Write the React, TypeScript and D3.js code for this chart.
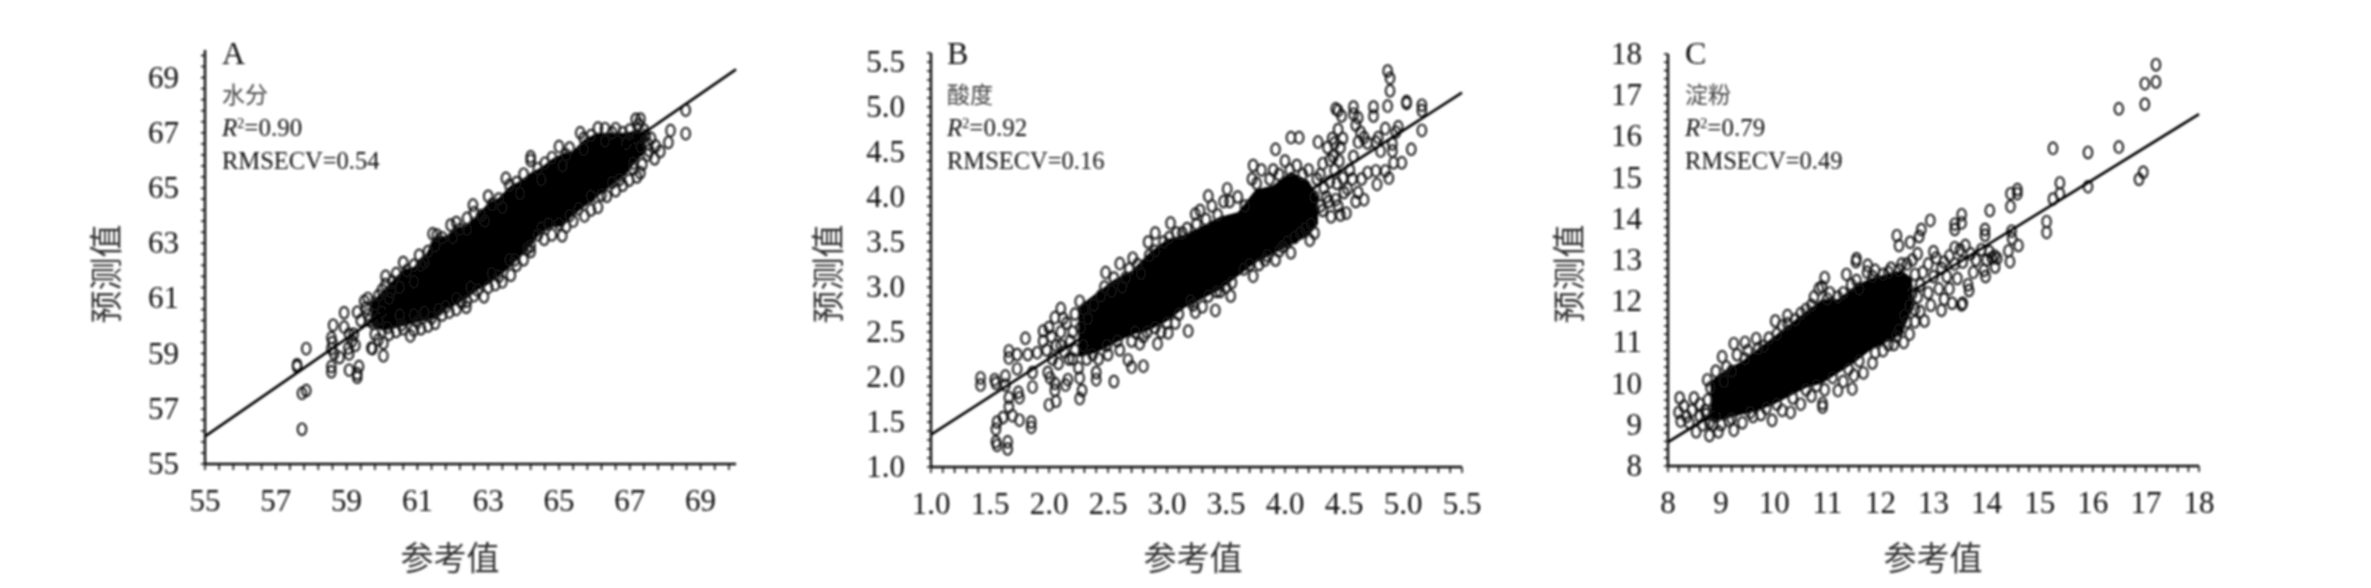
import React from "react";
import * as d3 from "d3";

const titleX = "参考值";
const titleY = "预测值";

const ticksA = [55, 57, 59, 61, 63, 65, 67, 69];
const ticksB = [1, 1.5, 2, 2.5, 3, 3.5, 4, 4.5, 5, 5.5];
const ticksC = [8, 9, 10, 11, 12, 13, 14, 15, 16, 17, 18];

const fitA: [number, number][] = [[55, 56], [70, 69.3]];
const fitB: [number, number][] = [[1, 1.36], [5.5, 5.16]];
const fitC: [number, number][] = [[8, 8.58], [18, 16.54]];

// dense, fully overlapped centre of each cloud: reference value, lower and upper predicted value
const coreAx = [59.7, 60.0, 60.3, 60.6, 60.9, 61.2, 61.5, 61.8, 62.1, 62.4, 62.7, 63.0, 63.3, 63.6, 63.9, 64.2, 64.5, 64.8, 65.1, 65.4, 65.7, 66.0, 66.3, 66.6, 66.9, 67.2, 67.45];
const coreAhi = [60.85, 61.25, 61.65, 62.05, 62.15, 62.5, 63.25, 63.25, 63.55, 63.65, 64.05, 64.45, 64.65, 65.05, 65.25, 65.55, 65.75, 66.05, 66.25, 66.35, 66.75, 66.95, 67.0, 67.0, 67.0, 67.1, 67.0];
const coreAlo = [60.0, 59.85, 59.9, 60.0, 60.1, 60.2, 60.3, 60.6, 60.8, 61.0, 61.3, 61.5, 61.8, 62.1, 62.5, 62.9, 63.4, 63.6, 63.6, 64.0, 64.3, 64.6, 64.9, 65.2, 65.5, 66.0, 66.3];
const coreBx = [2.25, 2.4, 2.55, 2.7, 2.85, 3.0, 3.15, 3.3, 3.45, 3.6, 3.75, 3.9, 4.05, 4.2, 4.28];
const coreBhi = [2.78, 2.93, 3.08, 3.18, 3.38, 3.53, 3.58, 3.68, 3.78, 3.83, 4.08, 4.13, 4.28, 4.18, 4.0];
const coreBlo = [2.22, 2.27, 2.37, 2.47, 2.52, 2.62, 2.77, 2.87, 2.97, 3.12, 3.27, 3.37, 3.47, 3.57, 3.7];
const coreCx = [8.8, 9.1, 9.4, 9.7, 10.0, 10.3, 10.6, 10.9, 11.2, 11.5, 11.8, 12.1, 12.4, 12.6];
const coreChi = [10.05, 10.35, 10.55, 10.85, 11.15, 11.45, 11.75, 12.05, 12.05, 12.35, 12.55, 12.65, 12.75, 12.55];
const coreClo = [9.1, 9.15, 9.25, 9.35, 9.5, 9.7, 9.9, 10.0, 10.25, 10.5, 10.8, 11.0, 11.2, 11.8];

const pointsA: [number, number][] = [
  [57.6,58.6],[57.6,58.53],[57.74,57.56],[57.86,57.66],[57.74,56.26],[57.86,59.18],[58.57,58.34],[58.57,58.53],[58.57,59.57],[58.62,60.03],[58.57,59.18],[58.8,58.86],[58.93,60.48],[58.93,59.96],[59.07,59.7],[59.07,58.99],[59.07,58.4],[59.3,58.27],[59.3,58.14],[59.35,58.53],[59.2,59.7],[59.15,59.45],[59.25,59.3],[58.65,59.0],[58.6,59.4],[59.05,59.2],[59.3,60.5],[59.4,60.2],[59.73,59.18],
  [68.58,67.82],[68.58,66.97],[68.15,67.08],[68.09,66.65],[67.86,66.32],[67.7,66.06],[67.73,66.52],[67.3,65.55],[67.17,67.49],
  [59.5,60.9],[59.6,61.0],[59.8,60.8],[59.9,61.1],[60.0,61.3],[60.1,61.5],[60.1,61.8],[60.3,61.6],[60.4,61.9],[60.6,62.3],[60.7,62.0],[60.9,62.2],[61.05,62.56],[61.1,62.2],[61.3,62.7],[61.43,63.34],[61.55,63.3],[61.7,63.2],[61.94,63.66],[62.1,63.75],[62.2,63.5],[62.4,63.9],[62.57,64.38],[62.6,64.1],[62.8,64.0],[63.0,64.7],[63.1,64.4],[63.3,64.6],[63.5,65.35],[63.6,65.1],[63.8,65.2],[64.0,65.5],[64.2,66.13],[64.2,66.0],[64.4,65.7],[64.6,65.9],[64.8,66.1],[65.0,66.5],[65.2,66.2],[65.3,66.45],[65.6,67.0],[65.7,66.8],[65.9,66.9],[66.1,67.17],[66.3,67.15],[66.5,67.0],[66.6,67.15],[66.8,67.0],[67.0,67.1],[67.25,67.3],[67.3,67.5],[67.4,67.1],[67.45,66.9],[67.5,66.6],
  [59.7,59.2],[59.8,59.7],[59.9,59.5],[60.04,58.92],[60.04,59.38],[60.2,59.7],[60.4,59.8],[60.6,59.9],[60.8,59.64],[60.9,59.85],[61.1,59.9],[61.3,60.0],[61.5,60.1],[61.7,60.4],[61.9,60.5],[62.1,60.6],[62.38,60.68],[62.4,60.9],[62.6,61.1],[62.88,61.06],[63.0,61.4],[63.2,61.5],[63.4,61.6],[63.64,61.84],[63.8,62.2],[64.0,62.4],[64.2,62.7],[64.4,63.3],[64.58,63.14],[64.8,63.3],[65.09,63.27],[65.2,63.6],[65.4,63.8],[65.72,63.99],[65.9,64.2],[66.1,64.3],[66.35,64.7],[66.6,64.9],[66.8,65.1],[66.98,65.28],[67.2,65.4],[67.35,65.85],[67.5,66.2],
  [59.6,60.4],[59.75,60.1],[60.0,60.5],[60.2,61.0],[60.5,61.4],[60.5,60.4],[60.9,61.6],[60.9,60.4],[61.2,62.3],[61.2,60.5],[61.5,62.9],[61.6,60.6],[62.0,63.2],[62.1,61.0],[62.4,63.5],[62.5,61.4],[62.9,63.8],[63.1,61.9],[63.4,64.3],[63.6,62.4],[63.9,64.8],[64.2,62.9],[64.5,65.3],[64.7,63.7],[65.1,65.8],[65.3,64.0],[65.7,66.4],[65.9,64.7],[66.3,66.7],[66.5,65.2],[66.9,66.6],[67.1,65.9],[67.3,66.5],[67.2,66.8],
  [59.55,60.65],[59.65,60.2],[59.9,60.25],[60.25,61.25],[60.15,59.95],[60.55,60.05],[61.0,60.15],[61.4,60.3],[61.8,60.7],[62.25,60.85],[62.7,61.3],[63.3,61.8],[63.75,62.4],[64.1,62.8],[64.5,63.55],[65.0,63.7],[65.55,64.25],[66.2,64.75],[66.7,65.3],[67.1,65.7],[67.55,66.35],[67.6,66.8]
];

const pointsB: [number, number][] = [
  [1.42,1.99],[1.42,1.91],[1.54,1.97],[1.55,1.93],[1.63,2.01],[1.63,1.91],[1.56,1.5],[1.55,1.42],[1.55,1.28],[1.56,1.24],[1.65,1.28],[1.65,1.2],[1.61,1.55],[1.69,1.57],[1.75,1.52],[1.85,1.5],[1.85,1.44],[1.66,1.77],[1.66,1.67],[1.74,1.83],[1.75,1.77],[1.86,1.89],[1.86,2.05],[1.73,2.09],[1.66,2.29],[1.66,2.21],[1.73,2.25],[1.8,2.43],[1.82,2.25],[1.9,2.27],[2.0,1.69],[2.06,1.73],[1.99,2.05],[2.01,1.99],[2.05,1.93],[2.05,1.85],[2.14,1.91],[2.16,1.97],[2.26,1.99],[2.26,1.76],[2.28,1.85],[2.4,2.05],[2.4,1.97],[2.55,1.95],[2.67,2.19],[2.7,2.11],[2.8,2.12],
  [1.95,2.51],[2.05,2.66],[2.1,2.76],[2.26,2.84],[2.48,3.16],[2.6,3.26],[2.71,3.32],[2.84,3.5],[2.9,3.6],[3.03,3.71],[3.24,3.81],[3.35,4.01],[3.51,4.09],[3.73,4.35],[3.92,4.53],[4.05,4.66],[4.12,4.66],[4.28,4.61],
  [4.43,4.98],[4.45,4.96],[4.48,4.9],[4.58,5.0],[4.58,4.92],[4.62,4.88],[4.6,4.8],[4.64,4.72],[4.67,4.66],[4.62,4.61],[4.75,5.0],[4.75,4.9],[4.87,5.4],[4.89,5.32],[4.89,5.18],[4.87,5.01],[5.03,5.06],[5.03,5.04],[5.16,5.02],[5.16,4.96],[5.16,4.74],[5.07,4.53],[4.99,4.38],[4.96,4.78],[4.94,4.72],[4.85,4.76],[4.79,4.66],[4.77,4.61],[4.81,4.51],[4.91,4.59],[4.91,4.51],[4.92,4.38],[4.88,4.21],[4.78,4.14],[4.85,4.29],[4.77,4.29],[4.7,4.27],[4.67,3.97],[4.62,4.05],[4.52,3.82],[4.39,3.78],[4.43,3.97],[4.53,4.09],[4.58,4.45],[4.49,4.65],[4.4,4.65],[4.49,4.21],[4.38,4.17],[4.32,4.37],[4.38,4.41],
  [4.21,3.52],[4.05,3.38],[3.92,3.3],[3.73,3.12],[3.54,2.9],[3.41,2.74],[3.24,2.72],[3.18,2.51],[3.01,2.49],[2.92,2.37],[2.77,2.37],
  [1.95,2.4],[1.98,2.3],[2.02,2.45],[2.06,2.35],[2.1,2.5],[2.13,2.28],[2.15,2.6],[2.18,2.4],[2.2,2.2],[2.22,2.7],[2.25,2.1],[2.3,2.75],[2.32,2.2],[2.38,2.8],[2.42,2.2],[2.47,3.0],[2.5,2.25],[2.55,3.1],[2.6,2.3],[2.65,3.1],[2.7,2.4],[2.75,3.25],[2.8,2.45],[2.85,3.35],[2.9,2.55],[2.97,3.5],[3.0,2.6],[3.08,3.6],[3.1,2.7],[3.17,3.65],[3.2,2.85],[3.28,3.85],[3.3,2.78],[3.38,3.9],[3.45,2.95],[3.48,3.95],[3.55,3.05],[3.6,4.0],[3.65,3.2],[3.72,4.2],[3.78,3.25],[3.8,4.3],[3.85,3.35],[3.9,4.3],[3.98,3.45],[4.0,4.4],[4.08,3.55],[4.1,4.35],[4.17,3.65],[4.2,4.3],[4.25,3.6],[4.27,4.2],[4.3,3.9],[4.33,4.1],[4.35,4.0],[4.36,4.55],[4.42,4.3],[4.44,4.15],[4.45,3.9],[4.47,4.55],[4.5,4.05],[4.55,4.3],[4.57,4.2],[4.6,3.95],[4.65,4.2],[4.45,4.75],[4.42,4.6],[4.47,3.8],[4.7,4.6],
  [2.0,2.55],[2.03,2.2],[2.08,2.15],[2.1,2.35],[2.12,2.65],[2.17,2.2],[2.2,2.5],[2.22,2.3],[2.27,2.55],[2.29,2.35],[2.33,2.65],[2.37,2.25],[2.44,2.9],[2.49,2.35],[2.53,2.95],[2.58,2.4],[2.62,3.0],[2.68,3.2],[2.73,2.5],[2.78,3.15],[2.83,2.5],[2.9,3.4],[2.95,2.5],[3.02,3.55],[3.07,2.6],[3.13,3.6],[3.25,3.7],[3.22,2.8],[3.33,3.75],[3.35,2.9],[3.43,3.8],[3.42,2.95],[3.53,3.95],[3.5,3.0],[3.66,3.9],[3.7,3.25],[3.76,4.15],[3.83,3.3],[3.87,4.2],[3.95,3.4],[3.95,4.25],[4.02,3.5],[4.04,4.3],[4.13,3.6],[4.15,4.25],[4.22,3.7],[4.25,4.0],[4.3,4.25],[4.32,3.85],[4.37,3.95],[4.41,4.45],[4.46,4.4]
];

const pointsC: [number, number][] = [
  [17.19,17.74],[17.19,17.32],[16.98,17.28],[16.98,16.78],[16.49,16.67],[16.49,15.74],[15.91,15.61],[15.25,15.71],[15.91,14.78],[16.95,15.13],[16.87,14.96],[15.38,14.87],[15.38,14.61],[15.25,14.48],[15.13,13.93],[15.13,13.67],[14.58,14.71],[14.58,14.61],[14.45,14.61],[14.45,14.3],[14.06,14.2],[14.47,13.7],[14.48,13.52],[14.6,13.35],[14.41,13.22],[14.44,12.96],[14.2,13.04],[14.16,12.83],[13.97,13.74],[13.97,13.6],[13.53,14.1],[13.53,13.9],[13.4,13.87],[13.4,13.74],[12.94,13.96],[12.31,13.59],[12.35,13.35],[12.77,13.74],[12.73,13.57],[12.56,13.43],[11.55,13.03],[11.54,12.96],[11.76,12.87],[11.36,12.65],[10.95,12.57],[10.84,12.3],[10.25,11.65],[10.02,11.52],[9.66,11.09],[9.45,11.0],[9.24,10.97],[9.02,10.65],[8.74,10.09],[8.22,9.65],[8.49,9.65],[8.24,9.09],[8.53,8.83],[8.78,8.74],[8.95,8.83],[9.24,8.87],[9.96,9.11],[10.31,9.3],[10.91,9.43],[10.91,9.52],[11.47,9.87],[11.2,9.83],[11.68,10.26],[12.44,11.0],[12.83,11.52],[13.15,11.78],[13.53,11.91],[13.67,12.26],
  [8.2,9.3],[8.3,9.45],[8.35,9.2],[8.4,9.05],[8.45,9.35],[8.6,9.5],[8.6,9.2],[8.65,9.0],[8.7,9.35],[8.85,9.0],[9.0,9.0],[9.15,9.1],[9.4,9.05],[9.6,9.2],[9.75,9.25],[10.15,9.35],[10.5,9.5],[10.7,9.7],[10.95,9.85],[11.3,10.05],[11.5,10.2],[11.85,10.5],[12.05,10.8],[12.25,10.95],[12.35,11.3],[12.5,11.5],
  [8.8,9.9],[8.9,10.3],[9.1,10.4],[9.3,10.7],[9.5,10.8],[9.8,10.9],[9.9,11.1],[10.15,11.4],[10.4,11.55],[10.6,11.8],[10.75,12.1],[10.9,12.35],[11.05,12.2],[11.2,12.1],[11.45,12.4],[11.6,12.3],[11.75,12.7],[11.9,12.75],[12.05,12.65],[12.2,12.8],[12.4,12.9],[12.6,13.0],
  [12.65,11.8],[12.7,12.1],[12.75,12.4],[12.8,12.7],[12.9,12.9],[12.9,12.2],[12.95,11.9],[13.0,13.2],[13.0,12.6],[13.05,13.05],[13.1,12.3],[13.15,12.8],[13.2,12.05],[13.25,12.6],[13.3,13.1],[13.3,12.3],[13.35,11.95],[13.4,13.3],[13.4,12.9],[13.45,12.55],[13.5,13.25],[13.55,12.95],[13.6,13.35],[13.65,12.4],[13.7,13.15],[13.75,12.7],[13.8,13.0],[13.9,13.25],[13.95,12.75],[13.98,12.6],[14.0,13.0],[14.05,13.2],[14.1,13.05],[14.15,13.1],[12.6,12.2],[12.55,11.9],[12.65,12.65],[12.7,13.15],[13.2,12.95],[13.55,11.95],
  [8.75,9.6],[8.72,9.25],[8.78,9.05],[8.9,9.2],[9.05,10.05],[9.2,9.15],[9.2,10.3],[9.45,10.6],[9.55,9.3],[9.7,10.85],[9.85,9.4],[10.05,11.2],[10.05,9.5],[10.25,11.45],[10.35,9.65],[10.5,11.7],[10.6,9.85],[10.7,11.9],[10.8,9.95],[11.0,12.05],[11.1,10.15],[11.3,12.2],[11.4,10.35],[11.55,12.5],[11.6,10.55],[11.85,12.6],[11.9,10.75],[12.15,12.7],[12.15,10.95],[12.35,12.75],[12.3,11.15],[12.45,11.65],[12.5,12.9],[12.55,11.2],[12.65,11.5],[12.75,11.75]
];

const size = { rx: 4.3, ry: 5.8 };

type PanelProps = {
  letter: string; name: string; r2: string; rmse: string;
  xr: [number, number]; yr: [number, number];
  dx: [number, number]; dy: [number, number];
  ticks: number[]; fmt: (v: number) => string; step: number;
  fit: [number, number][]; pts: [number, number][];
  cx: number[]; clo: number[]; chi: number[];
  yTitleX: number; xTitleX: number; textX: number;
};

function Panel(p: PanelProps) {
  const x = d3.scaleLinear().domain(p.dx).range(p.xr);
  const y = d3.scaleLinear().domain(p.dy).range(p.yr);
  const minor = p.step / 5;
  const n = (d: [number, number]) => Math.floor((d[1] - d[0]) / minor + 1e-6);
  const minorX = d3.range(n(p.dx) + 1).map((i) => p.dx[0] + i * minor);
  const minorY = d3.range(n(p.dy) + 1).map((i) => p.dy[0] + i * minor);
  const line = d3.line<[number, number]>().x((d) => x(d[0])).y((d) => y(d[1]));
  const band = d3.area<number>()
    .x((_, i) => x(p.cx[i]))
    .y0((_, i) => y(p.clo[i]))
    .y1((_, i) => y(p.chi[i]));
  const sans = "'Noto Sans CJK SC'";
  const serif = "'Liberation Serif'";
  const ink = "#111";
  const yBase = p.yr[0];
  const xBase = p.xr[0];
  return (
    <g>
      <path d={band(p.cx) || ""} fill="#050505" />
      {p.pts.map((d, i) => (
        <ellipse key={i} cx={x(d[0])} cy={y(d[1])} rx={size.rx} ry={size.ry} fill="none" stroke="#111" strokeWidth={1.9} />
      ))}
      <path d={line(p.fit) || ""} fill="none" stroke="#000" strokeWidth={2.6} />
      <line x1={p.xr[0]} x2={p.xr[1]} y1={yBase} y2={yBase} stroke={ink} strokeWidth={2.4} />
      <line x1={xBase} x2={xBase} y1={p.yr[0]} y2={p.yr[1]} stroke={ink} strokeWidth={2.4} />
      {minorX.map((v) => (
        <line key={v} x1={x(v)} x2={x(v)} y1={yBase} y2={yBase + 6} stroke={ink} strokeWidth={1.6} />
      ))}
      {minorY.map((v) => (
        <line key={v} x1={xBase - 4} x2={xBase} y1={y(v)} y2={y(v)} stroke={ink} strokeWidth={1.6} />
      ))}
      {p.ticks.map((v) => (
        <text key={v} x={x(v)} y={yBase + 47} textAnchor="middle" fontFamily={serif} fontSize={31} fill={ink}>{p.fmt(v)}</text>
      ))}
      {p.ticks.map((v) => (
        <text key={v} x={xBase - 26} y={y(v) + 10} textAnchor="end" fontFamily={serif} fontSize={31} fill={ink}>{p.fmt(v)}</text>
      ))}
      <text x={p.xTitleX} y={570} textAnchor="middle" fontFamily={sans} fontSize={33} fill="#333">{titleX}</text>
      <text transform={`translate(${p.yTitleX},274) rotate(-90)`} textAnchor="middle" fontFamily={sans} fontSize={33} fill="#333">{titleY}</text>
      <text x={p.textX} y={64} fontFamily={serif} fontSize={32} fill={ink}>{p.letter}</text>
      <text x={p.textX} y={103} fontFamily={sans} fontSize={23} fill="#444">{p.name}</text>
      <text x={p.textX} y={136} fontFamily={serif} fontSize={25} fill={ink}>
        <tspan fontStyle="italic">R</tspan>
        <tspan fontSize={14} dy={-8}>2</tspan>
        <tspan dy={8}>={p.r2}</tspan>
      </text>
      <text x={p.textX} y={169} fontFamily={serif} fontSize={24.5} fill={ink}>RMSECV={p.rmse}</text>
    </g>
  );
}

export default function App() {
  const int = (v: number) => String(v);
  const dec = (v: number) => v.toFixed(1);
  return (
    <svg width={2371} height={588} style={{ position: "absolute", left: 0, top: 0, background: "#fff" }}>
      <defs>
        <filter id="soft" x="0" y="0" width="100%" height="100%">
          <feGaussianBlur stdDeviation={0.8} />
        </filter>
      </defs>
      <g filter="url(#soft)">
        <Panel letter="A" name="水分" r2="0.90" rmse="0.54" xr={[205, 736]} yr={[464, 50]} dx={[55, 70]} dy={[55, 70]}
          ticks={ticksA} fmt={int} step={2} fit={fitA} pts={pointsA} cx={coreAx} clo={coreAlo} chi={coreAhi}
          yTitleX={118} xTitleX={450} textX={222} />
        <Panel letter="B" name="酸度" r2="0.92" rmse="0.16" xr={[931, 1462]} yr={[467, 53]} dx={[1, 5.5]} dy={[1, 5.6]}
          ticks={ticksB} fmt={dec} step={0.5} fit={fitB} pts={pointsB} cx={coreBx} clo={coreBlo} chi={coreBhi}
          yTitleX={840} xTitleX={1193} textX={947} />
        <Panel letter="C" name="淀粉" r2="0.79" rmse="0.49" xr={[1668, 2199]} yr={[466, 54]} dx={[8, 18]} dy={[8, 18]}
          ticks={ticksC} fmt={int} step={1} fit={fitC} pts={pointsC} cx={coreCx} clo={coreClo} chi={coreChi}
          yTitleX={1581} xTitleX={1933} textX={1685} />
      </g>
    </svg>
  );
}
